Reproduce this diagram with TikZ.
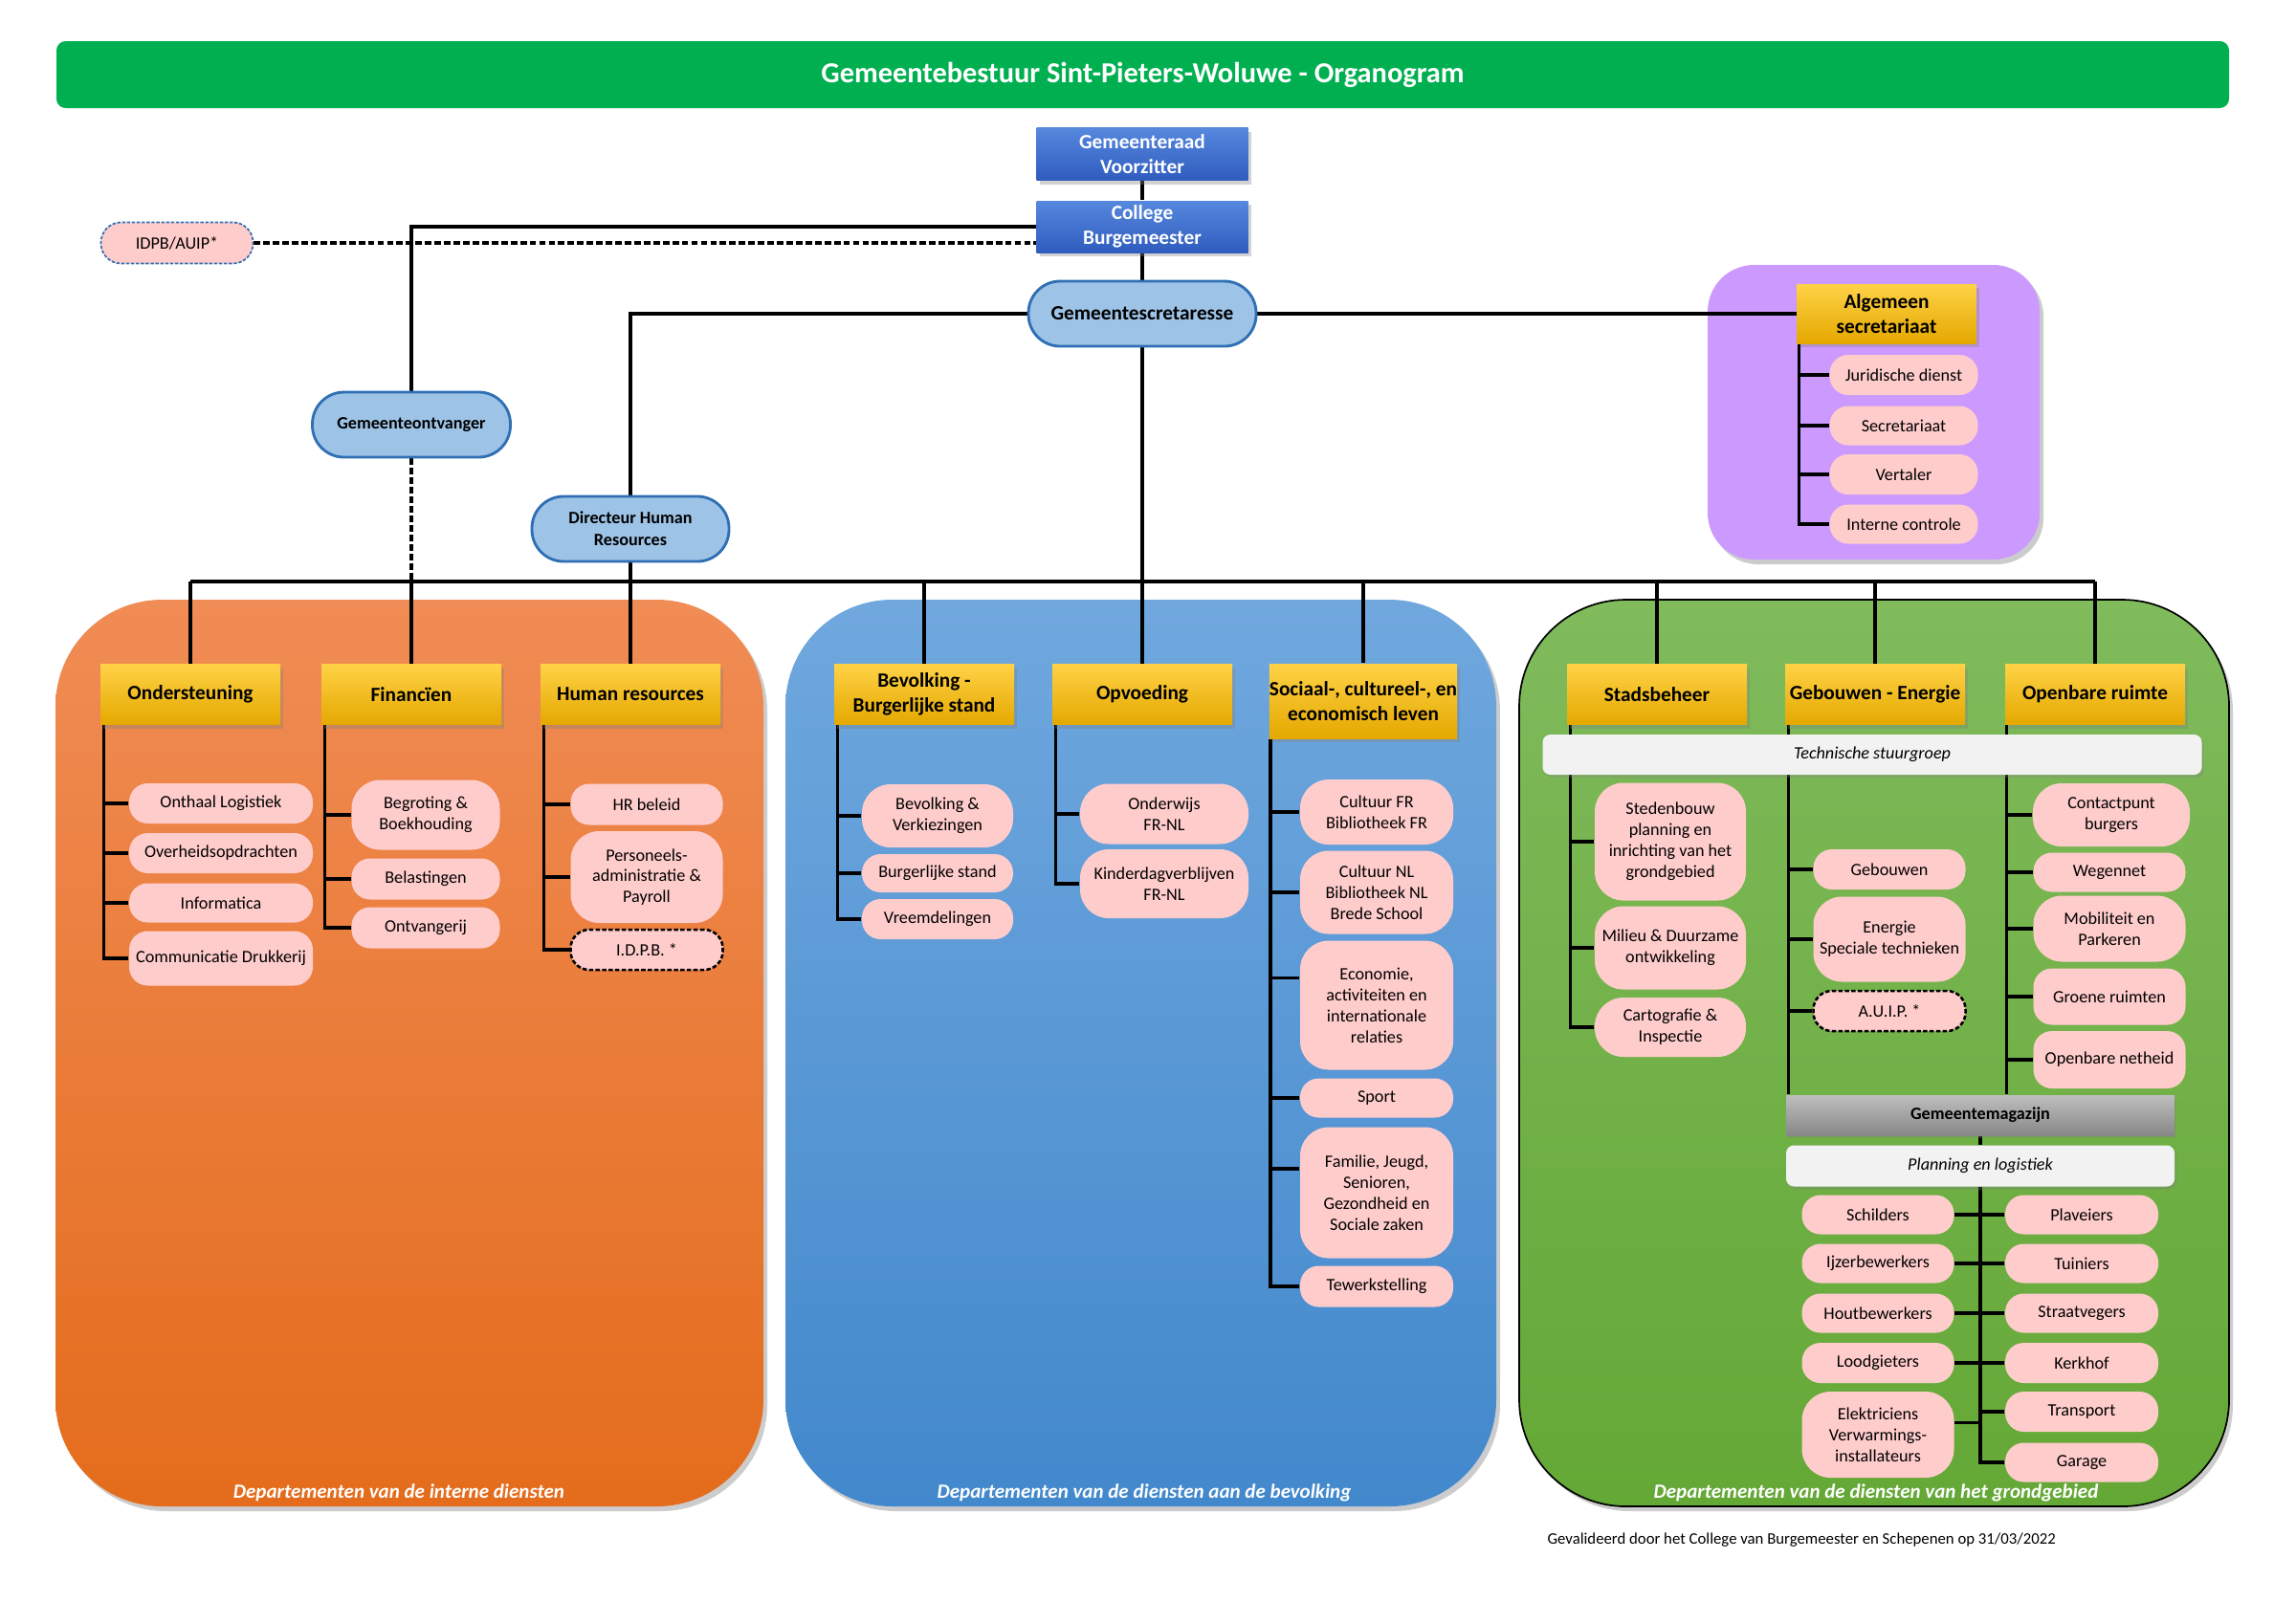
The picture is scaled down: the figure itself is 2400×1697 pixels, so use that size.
\documentclass[tikz,border=0pt]{standalone}
\usepackage{fontspec}
\setmainfont{Carlito}
\usetikzlibrary{shadows}
\pgfdeclarelayer{back}
\pgfdeclarelayer{lines}
\pgfsetlayers{back,lines,main}
\definecolor{titlegreen}{RGB}{0,176,80}
\definecolor{pinkc}{RGB}{255,204,204}
\definecolor{gold1}{RGB}{255,210,70}
\definecolor{gold0}{RGB}{255,192,0}
\definecolor{gold2}{RGB}{228,168,0}
\definecolor{dblue1}{RGB}{86,136,222}
\definecolor{dblue2}{RGB}{47,92,190}
\definecolor{lblue}{RGB}{157,195,230}
\definecolor{lbluedraw}{RGB}{47,111,180}
\definecolor{purplec}{RGB}{204,153,255}
\definecolor{or1}{RGB}{240,140,85}
\definecolor{or2}{RGB}{228,108,28}
\definecolor{bl1}{RGB}{112,168,222}
\definecolor{bl2}{RGB}{66,136,204}
\definecolor{gr1}{RGB}{128,187,92}
\definecolor{gr2}{RGB}{100,168,54}
\definecolor{grayl}{RGB}{242,242,242}
\definecolor{mag1}{RGB}{190,190,190}
\definecolor{mag2}{RGB}{135,135,135}
\begin{document}
\begin{tikzpicture}[x=0.012375cm, y=-0.012375cm,
  every node/.style={inner sep=0pt, align=center},
  wh/.style 2 args={minimum width=#1*0.012375cm, minimum height=#2*0.012375cm},
  conn/.style={line width=1.1pt, black},
  dashconn/.style={line width=1.1pt, black, dash pattern=on 2.4pt off 1.1pt},
  pink/.style={fill=pinkc, rounded corners=0.24cm, font=\fontsize{6.4}{7.7}\selectfont},
  tall/.style={rounded corners=0.37cm},
  dpink/.style={pink, draw=black, line width=0.9pt, dash pattern=on 1.6pt off 0.8pt},
  hdr/.style={top color=gold1, middle color=gold0, bottom color=gold2, font=\bfseries\fontsize{7.5}{9}\selectfont,
    drop shadow={shadow xshift=0.04cm, shadow yshift=-0.05cm, opacity=0.35}},
  topbox/.style={top color=dblue1, bottom color=dblue2, text=white, font=\bfseries\fontsize{7.5}{9}\selectfont,
    drop shadow={shadow xshift=0.04cm, shadow yshift=-0.05cm, opacity=0.35}},
  pill/.style={fill=lblue, draw=lbluedraw, line width=1pt, rounded corners=0.41cm, font=\bfseries\fontsize{6.4}{8}\selectfont},
  band/.style={fill=grayl, rounded corners=0.1cm, font=\itshape\fontsize{6.4}{7.7}\selectfont,
    drop shadow={shadow xshift=0.03cm, shadow yshift=-0.04cm, opacity=0.3}},
  deptlabel/.style={text=white, font=\bfseries\itshape\fontsize{7.4}{9}\selectfont}
]
\useasboundingbox (0,0) rectangle (2400,1697);

% title
\node[fill=titlegreen, rounded corners=0.12cm, wh={2271}{70}, text=white, font=\bfseries\fontsize{10.7}{12}\selectfont] (title) at (1194.5,78) {Gemeentebestuur Sint-Pieters-Woluwe - Organogram};

% containers
\begin{pgfonlayer}{back}
\fill[white] (0,0) rectangle (2400,1697);
\fill[black, opacity=0.2, rounded corners=1.38cm] (62,632) rectangle (802,1580);
\shade[top color=or1, bottom color=or2, rounded corners=1.38cm] (58,627) rectangle (798,1575);
\fill[black, opacity=0.2, rounded corners=1.38cm] (825,632) rectangle (1568,1580);
\shade[top color=bl1, bottom color=bl2, rounded corners=1.38cm] (821,627) rectangle (1564,1575);
\fill[black, opacity=0.2, rounded corners=1.38cm] (1592,632) rectangle (2334,1580);
\shade[top color=gr1, bottom color=gr2, rounded corners=1.38cm] (1588,627) rectangle (2330,1575);
\draw[black, line width=0.6pt, rounded corners=1.38cm] (1588,627) rectangle (2330,1575);
\fill[black, opacity=0.2, rounded corners=0.6cm] (1789,282) rectangle (2136,590);
\fill[purplec, rounded corners=0.6cm] (1785,277) rectangle (2132,585);
\end{pgfonlayer}

% top of hierarchy
\node[topbox, wh={221}{55}] (raad) at (1194,161) {Gemeenteraad\\Voorzitter};
\node[topbox, wh={221}{54}] (college) at (1194,237) {College\\Burgemeester};
\node[pill, wh={238}{68}, font=\bfseries\fontsize{7.5}{9}\selectfont] (sec) at (1194,328) {Gemeentescretaresse};
\node[pill, wh={207}{68}] (ontv) at (430,444) {Gemeenteontvanger};
\node[pill, wh={206}{68}] (dhr) at (659,553) {Directeur Human\\Resources};
\node[fill=pinkc, draw=lbluedraw, line width=0.6pt, dash pattern=on 1.2pt off 0.6pt, rounded corners=0.26cm, wh={159}{43}, font=\fontsize{6.4}{7.7}\selectfont] (idpb) at (185,254) {IDPB/AUIP*};

% Algemeen secretariaat
\node[hdr, wh={187}{62}] (algsec) at (1972,328) {Algemeen\\secretariaat};
\node[pink, wh={155}{42}] (a1) at (1990,392) {Juridische dienst};
\node[pink, wh={155}{41}] (a2) at (1990,445) {Secretariaat};
\node[pink, wh={155}{42}] (a3) at (1990,496) {Vertaler};
\node[pink, wh={155}{41}] (a4) at (1990,548) {Interne controle};

% department headers
\node[hdr, wh={188}{63}] (ond) at (199,726) {Ondersteuning};
\node[hdr, wh={188}{63}] (fin) at (430,726) {Financïen};
\node[hdr, wh={188}{63}] (hr) at (659,726) {Human resources};
\node[hdr, wh={188}{63}] (bev) at (966,726) {Bevolking -\\Burgerlijke stand};
\node[hdr, wh={188}{63}] (opv) at (1194,726) {Opvoeding};
\node[hdr, wh={188}{78}] (soc) at (1425,733) {Sociaal-, cultureel-, en\\economisch leven};
\node[hdr, wh={188}{63}] (stad) at (1732,726) {Stadsbeheer};
\node[hdr, wh={188}{63}] (geb) at (1960,726) {Gebouwen - Energie};
\node[hdr, wh={188}{63}] (ors) at (2190,726) {Openbare ruimte};

% orange items
\node[pink, wh={192}{42}] (o1) at (231,840) {Onthaal Logistiek};
\node[pink, wh={192}{42}] (o2) at (231,892) {Overheidsopdrachten};
\node[pink, wh={192}{41}] (o3) at (231,944) {Informatica};
\node[pink, wh={192}{57}] (o4) at (231,1002) {Communicatie Drukkerij};
\node[pink, tall, wh={155}{73}] (f1) at (445,852) {Begroting \&\\Boekhouding};
\node[pink, wh={155}{43}] (f2) at (445,919) {Belastingen};
\node[pink, wh={155}{43}] (f3) at (445,970) {Ontvangerij};
\node[pink, wh={159}{43}] (h1) at (676,841) {HR beleid};
\node[pink, tall, wh={159}{96}] (h2) at (676,917) {Personeels-\\administratie \&\\Payroll};
\node[dpink, wh={159}{42}] (h3) at (676,993) {I.D.P.B. *};

% blue items
\node[pink, tall, wh={158}{66}] (b1) at (980,853) {Bevolking \&\\Verkiezingen};
\node[pink, wh={158}{40}] (b2) at (980,913) {Burgerlijke stand};
\node[pink, wh={158}{42}] (b3) at (980,961) {Vreemdelingen};
\node[pink, tall, wh={176}{63}] (p1) at (1217,851) {Onderwijs\\FR-NL};
\node[pink, tall, wh={176}{72}] (p2) at (1217,924) {Kinderdagverblijven\\FR-NL};
\node[pink, tall, wh={160}{68}] (s1) at (1439,849) {Cultuur FR\\Bibliotheek FR};
\node[pink, tall, wh={160}{87}] (s2) at (1439,933) {Cultuur NL\\Bibliotheek NL\\Brede School};
\node[pink, tall, wh={160}{135}] (s3) at (1439,1051) {Economie,\\activiteiten en\\internationale\\relaties};
\node[pink, wh={160}{41}] (s4) at (1439,1148) {Sport};
\node[pink, tall, wh={160}{137}] (s5) at (1439,1247) {Familie, Jeugd,\\Senioren,\\Gezondheid en\\Sociale zaken};
\node[pink, wh={160}{43}] (s6) at (1439,1345) {Tewerkstelling};

% green items
\node[band, wh={689}{42}] (tsg) at (1957,789) {Technische stuurgroep};
\node[pink, tall, wh={158}{123}] (g1) at (1746,880) {Stedenbouw\\planning en\\inrichting van het\\grondgebied};
\node[pink, tall, wh={158}{87}] (g2) at (1746,991) {Milieu \& Duurzame\\ontwikkeling};
\node[pink, tall, wh={158}{62}] (g3) at (1746,1074) {Cartografie \&\\Inspectie};
\node[pink, wh={159}{42}] (e1) at (1975,909) {Gebouwen};
\node[pink, tall, wh={159}{89}] (e2) at (1975,982) {Energie\\Speciale technieken};
\node[dpink, wh={159}{42}] (e3) at (1975,1057) {A.U.I.P. *};
\node[pink, tall, wh={164}{66}] (r1) at (2207,852) {Contactpunt\\burgers};
\node[pink, wh={159}{41}] (r2) at (2205,912) {Wegennet};
\node[pink, tall, wh={159}{69}] (r3) at (2205,971) {Mobiliteit en\\Parkeren};
\node[pink, wh={159}{59}] (r4) at (2205,1042) {Groene ruimten};
\node[pink, wh={159}{60}] (r5) at (2205,1108) {Openbare netheid};
\node[top color=mag1, bottom color=mag2, wh={406}{42}, font=\bfseries\fontsize{6.4}{7.7}\selectfont,
  drop shadow={shadow xshift=0.03cm, shadow yshift=-0.04cm, opacity=0.3}] (mag) at (2070,1166) {Gemeentemagazijn};
\node[band, wh={406}{43}] (plan) at (2070,1219) {Planning en logistiek};
\node[pink, wh={159}{41}] (l1) at (1963,1270) {Schilders};
\node[pink, wh={159}{41}] (l2) at (1963,1321) {Ijzerbewerkers};
\node[pink, wh={159}{41}] (l3) at (1963,1373) {Houtbewerkers};
\node[pink, wh={159}{42}] (l4) at (1963,1425) {Loodgieters};
\node[pink, tall, wh={159}{90}] (l5) at (1963,1500) {Elektriciens\\Verwarmings-\\installateurs};
\node[pink, wh={160}{41}] (q1) at (2176,1270) {Plaveiers};
\node[pink, wh={160}{41}] (q2) at (2176,1321) {Tuiniers};
\node[pink, wh={160}{41}] (q3) at (2176,1373) {Straatvegers};
\node[pink, wh={160}{42}] (q4) at (2176,1425) {Kerkhof};
\node[pink, wh={160}{42}] (q5) at (2176,1476) {Transport};
\node[pink, wh={160}{41}] (q6) at (2176,1529) {Garage};

% labels
\node[deptlabel] (lab1) at (417,1561) {Departementen van de interne diensten};
\node[deptlabel] (lab2) at (1196,1561) {Departementen van de diensten aan de bevolking};
\node[deptlabel] (lab3) at (1961,1561) {Departementen van de diensten van het grondgebied};
\node[anchor=west, font=\fontsize{5.9}{7}\selectfont] (foot) at (1617,1610) {Gevalideerd door het College van Burgemeester en Schepenen op 31/03/2022};

% connectors
\begin{pgfonlayer}{lines}
\coordinate (bus) at (0,608);
\draw[conn] (raad.south) -- (college.north);
\draw[conn] (college.south) -- (sec.north);
\draw[conn] (sec.south) -- (sec.south |- bus);
\draw[conn] (college.west) -| (ontv.north);
\draw[dashconn] (idpb.east) -- (idpb.east -| college.west);
\draw[dashconn] (ontv.south) -- (ontv.south |- bus);
\draw[conn] (sec.west) -| (dhr.north);
\draw[conn] (dhr.south) -- (dhr.south |- bus);
\draw[conn] (sec.east) -- (algsec.west);
\draw[conn] (ond.north |- bus) -- (ors.north |- bus);
\foreach \n in {ond,fin,hr,bev,opv,soc,stad,geb,ors}
  \draw[conn] (\n.north |- bus) -- (\n.north);
\foreach \c in {a1,a2,a3,a4}
  \draw[conn] ([xshift=0.03cm]algsec.south west) |- (\c.west);
\foreach \c in {o1,o2,o3,o4}
  \draw[conn] ([xshift=0.05cm]ond.south west) |- (\c.west);
\foreach \c in {f1,f2,f3}
  \draw[conn] ([xshift=0.05cm]fin.south west) |- (\c.west);
\foreach \c in {h1,h2,h3}
  \draw[conn] ([xshift=0.05cm]hr.south west) |- (\c.west);
\foreach \c in {b1,b2,b3}
  \draw[conn] ([xshift=0.05cm]bev.south west) |- (\c.west);
\foreach \c in {p1,p2}
  \draw[conn] ([xshift=0.05cm]opv.south west) |- (\c.west);
\foreach \c in {s1,s2,s4,s6}
  \draw[conn] ([xshift=0.02cm]soc.south west) |- (\c.west);
\draw[conn] ([xshift=0.02cm]soc.south west) |- ([yshift=0.35cm]s3.west);
\draw[conn] ([xshift=0.02cm]soc.south west) |- ([yshift=0.31cm]s5.west);
\foreach \c in {g1,g2,g3}
  \draw[conn] ([xshift=0.05cm]stad.south west) |- (\c.west);
\foreach \c in {e1,e2,e3}
  \draw[conn] ([xshift=0.05cm]geb.south west) |- (\c.west);
\draw[conn] ([xshift=0.05cm]geb.south west) -- ([xshift=0.05cm]geb.south west |- mag.north);
\foreach \c in {r1,r2,r3,r4,r5}
  \draw[conn] ([xshift=0.03cm]ors.south west) |- (\c.west);
\draw[conn] ([xshift=0.03cm]ors.south west) -- ([xshift=0.03cm]ors.south west |- mag.north);
\draw[conn] (mag.south) -- (plan.north);
\draw[conn] (plan.south) -- (plan.south |- q6.west) -- (q6.west);
\foreach \c in {l1,l2,l3,l4}
  \draw[conn] (\c.east) -- (\c.east -| plan.south);
\draw[conn] ([yshift=0.16cm]l5.east) -- ([yshift=0.16cm]l5.east -| plan.south);
\foreach \c in {q1,q2,q3,q4,q5}
  \draw[conn] (\c.west) -- (\c.west -| plan.south);
\end{pgfonlayer}
\end{tikzpicture}
\end{document}
